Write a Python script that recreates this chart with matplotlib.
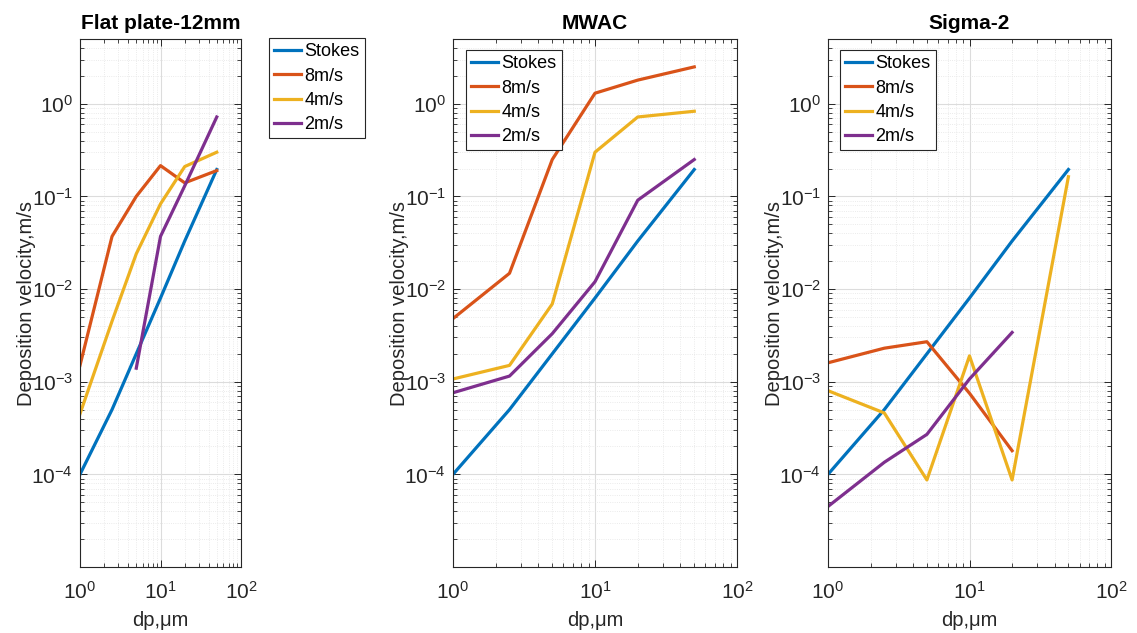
import numpy as np
import matplotlib
matplotlib.use("Agg")
import matplotlib.pyplot as plt

plt.rcParams['font.family'] = ['Liberation Sans', 'DejaVu Sans']
plt.rcParams['mathtext.fontset'] = 'custom'
plt.rcParams['mathtext.rm'] = 'Liberation Sans'
plt.rcParams['mathtext.default'] = 'regular'

# particle diameters (um)
dp = [1, 2.5, 5, 10, 20, 50]
labels = ["Stokes", "8m/s", "4m/s", "2m/s"]
colors = ["#0072BD", "#D95319", "#EDB120", "#7E2F8E"]
nan = np.nan

stokes = [1e-4, 5e-4, 2.0e-3, 8.0e-3, 3.3e-2, 0.195]

# Flat plate-12mm
flat_8 = [1.5e-3, 0.037, 0.10, 0.215, 0.14, 0.19]
flat_4 = [4.5e-4, 4.5e-3, 0.024, 0.083, 0.21, 0.30]
flat_2 = [nan, nan, 1.4e-3, 0.037, 0.13, 0.72]

# MWAC
mwac_8 = [4.8e-3, 0.0148, 0.25, 1.3, 1.8, 2.5]
mwac_4 = [1.07e-3, 1.5e-3, 6.9e-3, 0.30, 0.72, 0.83]
mwac_2 = [7.6e-4, 1.15e-3, 3.3e-3, 0.012, 0.091, 0.25]

# Sigma-2
sig_8 = [1.6e-3, 2.3e-3, 2.7e-3, 7.5e-4, 1.8e-4, nan]
sig_4 = [8.0e-4, 4.6e-4, 8.7e-5, 1.9e-3, 8.7e-5, 0.163]
sig_2 = [4.5e-5, 1.35e-4, 2.7e-4, 1.07e-3, 3.4e-3, nan]

titles = ["Flat plate-12mm", "MWAC", "Sigma-2"]
panels = [
    [stokes, flat_8, flat_4, flat_2],
    [stokes, mwac_8, mwac_4, mwac_2],
    [stokes, sig_8, sig_4, sig_2],
]

W, H = 1137, 633
fig = plt.figure(figsize=(W / 100, H / 100), dpi=100)

# axes boxes in pixels: left, right
boxes = [(80, 241), (453, 737), (828, 1111)]
top, bot = 39, 567
legend_pos = [(269, 38), (466, 50), (840, 50)]
ink = "#262626"

for i, (l, r) in enumerate(boxes):
    ax = fig.add_axes([l / W, (H - bot) / H, (r - l) / W, (bot - top) / H])
    for lab, c, ys in zip(labels, colors, panels[i]):
        ax.plot(dp, ys, color=c, lw=2.3, label=lab)
    ax.set_xscale("log")
    ax.set_yscale("log")
    ax.set_xlim(1, 100)
    ax.set_ylim(1e-5, 5)
    ax.set_yticks([1e-4, 1e-3, 1e-2, 1e-1, 1e0])
    ax.set_xticks([1, 10, 100])
    ax.grid(True, which="major", color="#dcdcdc", lw=0.8)
    ax.grid(True, which="minor", color="#e4e4e4", lw=0.6, ls=":")
    ax.tick_params(which="both", direction="in", top=True, right=True,
                   colors=ink, labelsize=15)
    ax.tick_params(which="major", length=5, width=0.7)
    ax.tick_params(which="minor", length=3, width=0.6)
    ax.tick_params(axis="x", which="major", pad=10)
    ax.tick_params(axis="y", which="major", pad=5)
    for s in ax.spines.values():
        s.set_color(ink)
        s.set_linewidth(0.8)
    ax.set_title(titles[i], fontsize=15, fontweight="bold", pad=7)
    ax.set_xlabel("dp,\u03bcm", fontsize=14.5, color=ink, labelpad=6)
    ax.set_ylabel("Deposition velocity,m/s", fontsize=14.5, color=ink, labelpad=-3)
    lx, ly = legend_pos[i]
    leg = ax.legend(loc="upper left", bbox_to_anchor=(lx / W, 1 - ly / H),
                    bbox_transform=fig.transFigure, borderaxespad=0,
                    fontsize=13, fancybox=False, framealpha=1, edgecolor=ink,
                    handlelength=1.45, handletextpad=0.2, labelspacing=0.4,
                    borderpad=0.3)
    leg.get_frame().set_linewidth(0.8)

fig.savefig("out.png", dpi=100)
